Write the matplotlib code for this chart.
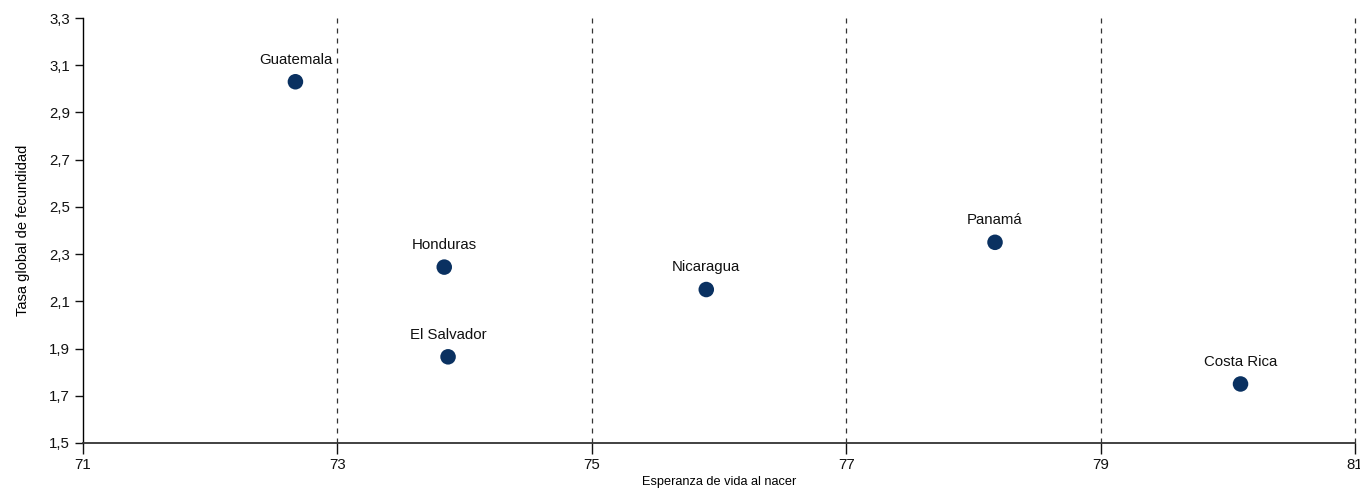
import matplotlib
matplotlib.use("Agg")
import matplotlib.pyplot as plt

# Data
paises = ["Guatemala", "Honduras", "El Salvador", "Nicaragua", "Panamá", "Costa Rica"]
esperanza_vida = [72.67, 73.84, 73.87, 75.90, 78.17, 80.10]
tasa_fecundidad = [3.03, 2.245, 1.865, 2.15, 2.35, 1.75]

x_ticks = [71, 73, 75, 77, 79, 81]
y_ticks = [1.5, 1.7, 1.9, 2.1, 2.3, 2.5, 2.7, 2.9, 3.1, 3.3]

plt.rcParams["font.family"] = ["Liberation Sans", "DejaVu Sans"]

fig = plt.figure(figsize=(13.6, 4.92), dpi=100)
ax_w = (1355 - 83) / 1360
ax = fig.add_axes([83 / 1360, 1 - 443 / 492, ax_w, (443 - 18) / 492])

for xv in x_ticks[1:]:
    ax.axvline(xv, color="#333333", ls=(0, (4, 4)), lw=0.9, zorder=1, clip_on=False)

ax.scatter(esperanza_vida, tasa_fecundidad, s=125, color="#0a3161", zorder=3,
           edgecolors="none")
for name, xv, yv in zip(paises, esperanza_vida, tasa_fecundidad):
    ax.annotate(name, (xv, yv), xytext=(0, 13), textcoords="offset points",
                ha="center", va="baseline", fontsize=10.8, color="#111111")

ax.set_xlim(71, 81)
ax.set_ylim(1.5, 3.3)
ax.set_xticks(x_ticks)
ax.set_yticks(y_ticks)
ax.set_yticklabels([f"{v:.1f}".replace(".", ",") for v in y_ticks])
ax.tick_params(labelsize=10.8, length=6, width=1, colors="#111111")
ax.tick_params(axis="x", length=8, pad=3)

for side in ["top", "right"]:
    ax.spines[side].set_visible(False)
ax.spines["left"].set_linewidth(1)
ax.spines["bottom"].set_linewidth(1.3)
ax.spines["bottom"].set_color("#333333")

ax.set_xlabel("Esperanza de vida al nacer", fontsize=9.2, labelpad=3)
ax.set_ylabel("Tasa global de fecundidad", fontsize=10.5)
# right edge of the rotated y label sits ~30 px from the left edge of the figure
ax.yaxis.set_label_coords((30 - 83) / 1360 / ax_w, 0.5)

fig.savefig("out.png", dpi=100)
